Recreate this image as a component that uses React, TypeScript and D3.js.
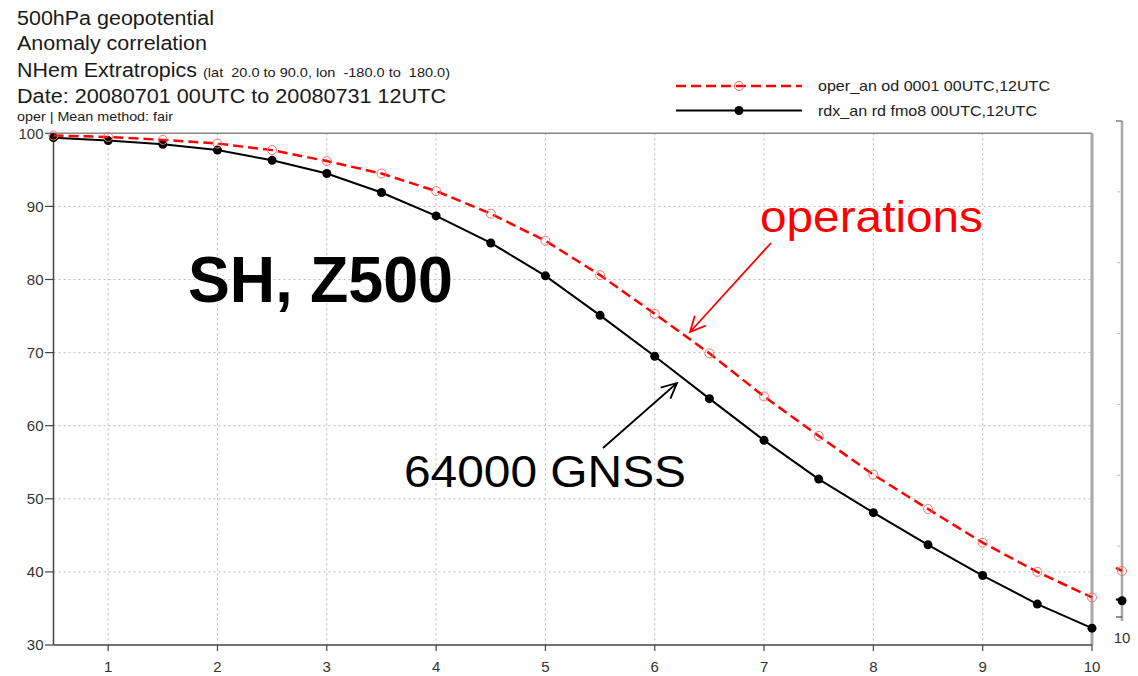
import React from 'react';
import * as d3 from 'd3';

const steps = [0.5, 1, 1.5, 2, 2.5, 3, 3.5, 4, 4.5, 5, 5.5, 6, 6.5, 7, 7.5, 8, 8.5, 9, 9.5, 10];
const operValues = [99.7, 99.5, 99.1, 98.6, 97.7, 96.2, 94.5, 92.1, 89.0, 85.3, 80.6, 75.3, 69.9, 64.0, 58.6, 53.3, 48.6, 44.0, 40.0, 36.5];
const rdxValues = [99.4, 99.0, 98.5, 97.7, 96.3, 94.5, 91.9, 88.7, 85.0, 80.5, 75.1, 69.5, 63.7, 58.0, 52.7, 48.1, 43.7, 39.5, 35.6, 32.3];
const yTicks = [30, 40, 50, 60, 70, 80, 90, 100];
const xTicks = [1, 2, 3, 4, 5, 6, 7, 8, 9, 10];
const miniStep = 10;
const miniLabel = '10';

const titleLines = [
  '500hPa geopotential',
  'Anomaly correlation',
];
const regionTitle = 'NHem Extratropics';
const regionSub = '(lat  20.0 to 90.0, lon  -180.0 to  180.0)';
const dateTitle = 'Date: 20080701 00UTC to 20080731 12UTC';
const methodTitle = 'oper | Mean method: fair';
const legendLabels = ['oper_an od 0001 00UTC,12UTC', 'rdx_an rd fmo8 00UTC,12UTC'];

const FONT = '"Liberation Sans", Arial, Helvetica, sans-serif';

function arrowHead(x1: number, y1: number, x2: number, y2: number, len: number, ang: number) {
  const a = Math.atan2(y1 - y2, x1 - x2);
  const p1 = [x2 + len * Math.cos(a + ang), y2 + len * Math.sin(a + ang)];
  const p2 = [x2 + len * Math.cos(a - ang), y2 + len * Math.sin(a - ang)];
  return `M${x1},${y1}L${x2},${y2}M${p1[0]},${p1[1]}L${x2},${y2}L${p2[0]},${p2[1]}`;
}

export default function App() {
  const W = 1138, H = 676;
  const left = 53.5, right = 1092, top = 133.3, bottom = 645;
  const x = d3.scaleLinear().domain([0.5, 10]).range([left, right]);
  const y = d3.scaleLinear().domain([30, 100]).range([bottom, top]);
  const yMini = d3.scaleLinear().domain([30, 100]).range([617, 121]);
  const miniX = 1122;

  const line = d3.line<number>().x((_, i) => x(steps[i])).y((d) => y(d));
  const miniIdx = steps.indexOf(miniStep);

  return (
    <svg width={W} height={H} style={{ position: 'absolute', left: 0, top: 0, background: '#fff' }} fontFamily={FONT}>
      <rect x={0} y={0} width={W} height={H} fill="#fff" />
      {/* titles */}
      <g fill="#1a1a1a">
        <text x={17} y={25} fontSize={20} textLength={197} lengthAdjust="spacingAndGlyphs">{titleLines[0]}</text>
        <text x={17} y={50} fontSize={20} textLength={190} lengthAdjust="spacingAndGlyphs">{titleLines[1]}</text>
        <text x={17} y={77} fontSize={20} textLength={180} lengthAdjust="spacingAndGlyphs">{regionTitle}</text>
        <text x={203} y={77} fontSize={13} textLength={247} lengthAdjust="spacingAndGlyphs" style={{ whiteSpace: 'pre' }}>{regionSub}</text>
        <text x={17} y={103} fontSize={20} textLength={429} lengthAdjust="spacingAndGlyphs">{dateTitle}</text>
        <text x={17} y={121} fontSize={12.5} textLength={156} lengthAdjust="spacingAndGlyphs">{methodTitle}</text>
      </g>

      {/* legend */}
      <g>
        <line x1={676} x2={802} y1={86} y2={86} stroke="#ff0000" strokeWidth={2.5} strokeDasharray="10 5" />
        <circle cx={739} cy={86} r={4.5} fill="none" stroke="#ff6060" strokeWidth={1} />
        <text x={818} y={91} fontSize={14.5} fill="#222" textLength={232} lengthAdjust="spacingAndGlyphs">{legendLabels[0]}</text>
        <line x1={676} x2={802} y1={110.5} y2={110.5} stroke="#000" strokeWidth={2} />
        <circle cx={739} cy={110.5} r={4.5} fill="#000" />
        <text x={818} y={116} fontSize={14.5} fill="#222" textLength={219} lengthAdjust="spacingAndGlyphs">{legendLabels[1]}</text>
      </g>

      {/* grid */}
      <g stroke="#bbb" strokeWidth={1} strokeDasharray="2 3">
        {xTicks.filter((t) => t < 10).map((t) => (
          <line key={'gx' + t} x1={x(t)} x2={x(t)} y1={top} y2={bottom} />
        ))}
        {yTicks.filter((t) => t > 30 && t < 100).map((t) => (
          <line key={'gy' + t} x1={left} x2={right} y1={y(t)} y2={y(t)} />
        ))}
      </g>

      {/* frame */}
      <line x1={left} x2={right} y1={top} y2={top} stroke="#888" strokeWidth={1.5} />
      <line x1={right} x2={right} y1={top} y2={bottom} stroke="#a8a8a8" strokeWidth={3} />
      <line x1={left} x2={left} y1={top} y2={bottom} stroke="#444" strokeWidth={1.5} />
      <line x1={left} x2={right} y1={bottom} y2={bottom} stroke="#444" strokeWidth={1.5} />

      {/* y axis ticks & labels */}
      <g>
        {yTicks.map((t) => (
          <g key={'yt' + t}>
            <line x1={45} x2={left} y1={y(t)} y2={y(t)} stroke="#444" strokeWidth={1.2} />
            <text x={43.5} y={y(t) + 5.3} fontSize={15} textAnchor="end" fill="#333">{t}</text>
          </g>
        ))}
      </g>
      {/* x axis ticks & labels */}
      <g>
        {xTicks.map((t) => (
          <g key={'xt' + t}>
            <line x1={x(t)} x2={x(t)} y1={bottom} y2={bottom + 6} stroke="#444" strokeWidth={1.2} />
            <text x={x(t)} y={672} fontSize={15} textAnchor="middle" fill="#333">{t}</text>
          </g>
        ))}
      </g>

      {/* series */}
      <path d={line(rdxValues) || ''} fill="none" stroke="#000" strokeWidth={2} />
      {rdxValues.map((v, i) => (
        <circle key={'r' + i} cx={x(steps[i])} cy={y(v)} r={4.5} fill="#000" />
      ))}
      <path d={line(operValues) || ''} fill="none" stroke="#ff0000" strokeWidth={2.5} strokeDasharray="10 5" />
      {operValues.map((v, i) => (
        <circle key={'o' + i} cx={x(steps[i])} cy={y(v)} r={4.5} fill="none" stroke="#ff7070" strokeWidth={1} />
      ))}

      {/* mini side panel */}
      <g>
        <line x1={miniX} x2={miniX} y1={yMini(100)} y2={621} stroke="#a8a8a8" strokeWidth={2.5} />
        <line x1={miniX - 6} x2={miniX} y1={yMini(100)} y2={yMini(100)} stroke="#666" strokeWidth={1.2} />
        {yTicks.filter((t) => t > 30 && t < 100).map((t) => (
          <line key={'mt' + t} x1={miniX - 5} x2={miniX - 2} y1={yMini(t)} y2={yMini(t)} stroke="#bbb" strokeWidth={1} />
        ))}
        <line x1={miniX - 6} x2={miniX} y1={yMini(30)} y2={yMini(30)} stroke="#444" strokeWidth={1.2} />
        <line x1={miniX - 6} x2={miniX} y1={yMini(operValues[miniIdx]) - 3} y2={yMini(operValues[miniIdx])} stroke="#ff0000" strokeWidth={2.5} />
        <circle cx={miniX} cy={yMini(operValues[miniIdx])} r={4.5} fill="none" stroke="#ff7070" strokeWidth={1} />
        <line x1={miniX - 6} x2={miniX} y1={yMini(rdxValues[miniIdx]) - 1.5} y2={yMini(rdxValues[miniIdx])} stroke="#000" strokeWidth={2} />
        <circle cx={miniX} cy={yMini(rdxValues[miniIdx])} r={4.5} fill="#000" />
        <text x={miniX} y={643} fontSize={15} textAnchor="middle" fill="#333">{miniLabel}</text>
      </g>

      {/* annotations */}
      <text x={188} y={302} fontSize={64} fontWeight="bold" fill="#000" textLength={265} lengthAdjust="spacingAndGlyphs">SH, Z500</text>
      <text x={760} y={232} fontSize={44} fill="#ff0000" textLength={223} lengthAdjust="spacingAndGlyphs">operations</text>
      <path d={arrowHead(771, 243, 690, 332, 17, 0.45)} fill="none" stroke="#ff0000" strokeWidth={1.8} />
      <text x={404} y={487} fontSize={44} fill="#000" textLength={282} lengthAdjust="spacingAndGlyphs">64000 GNSS</text>
      <path d={arrowHead(603, 448, 677, 383, 17, 0.45)} fill="none" stroke="#000" strokeWidth={1.8} />
    </svg>
  );
}
